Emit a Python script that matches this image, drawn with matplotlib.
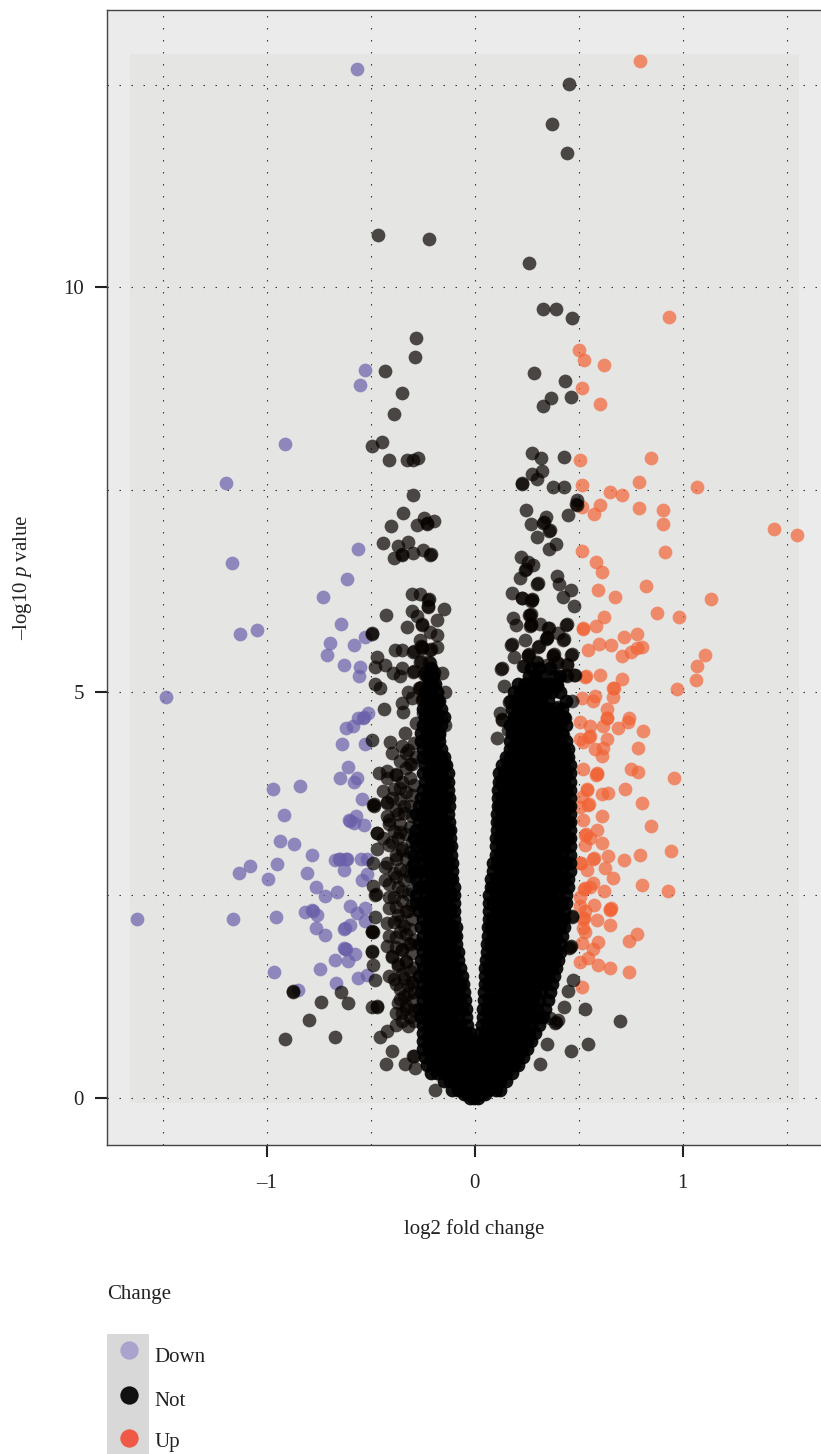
import numpy as np
import matplotlib
matplotlib.use("Agg")
import matplotlib.pyplot as plt
from matplotlib.patches import Rectangle
from matplotlib.lines import Line2D

plt.rcParams['font.family'] = ['Liberation Serif', 'DejaVu Serif']
plt.rcParams['mathtext.fontset'] = 'custom'
plt.rcParams['mathtext.rm'] = 'Liberation Serif'
plt.rcParams['mathtext.it'] = 'Liberation Serif:italic'

# -------------------------------
# data
# -------------------------------
down_x = [-0.566, -0.527, -0.551, -0.912, -1.196, -0.563, -1.168, -0.615, -0.731, -0.641, -1.048, -1.127,
          -0.527, -0.694, -0.580, -0.710, -0.630, -0.553, -0.558, -1.486, -0.514, -0.560, -0.532, -0.535,
          -0.587, -0.620, -0.636, -0.527, -0.608, -0.648, -0.567, -0.579, -0.838, -0.968, -0.540, -0.918,
          -0.571, -0.600, -0.604, -0.580, -0.532, -0.936, -0.870, -0.784, -0.672, -0.648, -0.652, -0.615,
          -0.619, -0.547, -0.519, -1.079, -1.133, -0.952, -0.806, -0.628, -0.519, -0.542, -0.995, -0.764,
          -0.664, -0.718, -0.598, -0.527, -0.816, -0.779, -0.782, -0.760, -0.567, -0.527, -1.625, -1.163,
          -0.957, -0.600, -0.624, -0.628, -0.761, -0.718, -0.624, -0.628, -0.620, -0.575, -0.673, -0.608,
          -0.742, -0.965, -0.563, -0.519, -0.665, -0.848]
down_y = [12.69, 8.98, 8.79, 8.06, 7.58, 6.77, 6.60, 6.40, 6.18, 5.84, 5.77, 5.72,
          5.69, 5.61, 5.58, 5.46, 5.34, 5.31, 5.20, 4.94, 4.75, 4.69, 4.70, 4.68,
          4.59, 4.56, 4.36, 4.36, 4.08, 3.94, 3.95, 3.90, 3.84, 3.81, 3.69, 3.49,
          3.47, 3.41, 3.42, 3.39, 3.36, 3.17, 3.13, 2.99, 2.93, 2.95, 2.94, 2.95,
          2.94, 2.94, 2.95, 2.86, 2.77, 2.88, 2.77, 2.81, 2.76, 2.69, 2.70, 2.60,
          2.54, 2.49, 2.37, 2.34, 2.29, 2.30, 2.31, 2.25, 2.28, 2.18, 2.20, 2.21,
          2.23, 2.13, 2.09, 2.08, 2.09, 2.01, 1.84, 1.85, 1.83, 1.77, 1.70, 1.69,
          1.59, 1.55, 1.48, 1.51, 1.42, 1.33]

up_x = [0.796, 0.936, 0.503, 0.525, 0.623, 0.516, 0.601, 0.505, 0.846, 0.791, 1.069, 0.516, 0.650, 0.708,
        0.514, 0.602, 0.574, 0.791, 0.907, 0.904, 1.440, 1.548, 0.514, 0.916, 0.582, 0.613, 0.822, 0.594,
        0.675, 1.135, 0.875, 0.981, 0.622, 0.582, 0.519, 0.521, 0.779, 0.719, 0.599, 0.654, 0.806, 0.779,
        0.543, 0.750, 0.710, 1.107, 1.070, 1.064, 0.973, 0.602, 0.530, 0.533, 0.707, 0.666, 0.669, 0.578,
        0.514, 0.570, 0.665, 0.636, 0.635, 0.638, 0.742, 0.738, 0.506, 0.554, 0.618, 0.690, 0.811, 0.505,
        0.551, 0.555, 0.635, 0.522, 0.618, 0.578, 0.787, 0.612, 0.751, 0.787, 0.960, 0.522, 0.586, 0.590,
        0.583, 0.723, 0.538, 0.541, 0.639, 0.611, 0.806, 0.514, 0.546, 0.549, 0.506, 0.613, 0.522, 0.848,
        0.586, 0.530, 0.533, 0.554, 0.612, 0.942, 0.795, 0.719, 0.641, 0.570, 0.573, 0.506, 0.509, 0.530,
        0.626, 0.538, 0.663, 0.803, 0.931, 0.570, 0.525, 0.528, 0.554, 0.620, 0.505, 0.575, 0.652, 0.655,
        0.649, 0.506, 0.530, 0.522, 0.525, 0.589, 0.650, 0.522, 0.530, 0.780, 0.743, 0.591, 0.514, 0.569,
        0.546, 0.505, 0.591, 0.652, 0.743, 0.516]
up_y = [12.79, 9.63, 9.22, 9.10, 9.04, 8.75, 8.56, 7.87, 7.89, 7.60, 7.54, 7.56, 7.47, 7.44,
        7.29, 7.31, 7.20, 7.27, 7.25, 7.08, 7.02, 6.94, 6.74, 6.73, 6.61, 6.49, 6.31, 6.26,
        6.18, 6.15, 5.98, 5.93, 5.93, 5.82, 5.78, 5.79, 5.72, 5.69, 5.60, 5.59, 5.56, 5.55,
        5.52, 5.50, 5.45, 5.46, 5.33, 5.15, 5.04, 5.22, 5.19, 5.20, 5.17, 5.05, 5.06, 4.96,
        4.93, 4.89, 4.94, 4.80, 4.68, 4.69, 4.69, 4.64, 4.63, 4.58, 4.58, 4.56, 4.53, 4.43,
        4.45, 4.46, 4.42, 4.39, 4.31, 4.30, 4.32, 4.22, 4.06, 4.02, 3.95, 4.05, 3.99, 4.00,
        3.98, 3.81, 3.80, 3.81, 3.76, 3.75, 3.64, 3.71, 3.61, 3.62, 3.59, 3.47, 3.43, 3.35,
        3.30, 3.24, 3.25, 3.20, 3.14, 3.04, 2.99, 2.93, 2.98, 2.95, 2.96, 2.89, 2.90, 3.12,
        2.83, 2.81, 2.71, 2.62, 2.55, 2.65, 2.58, 2.59, 2.60, 2.55, 2.48, 2.38, 2.33, 2.34,
        2.32, 2.36, 2.30, 2.21, 2.22, 2.19, 2.13, 2.09, 2.04, 2.02, 1.93, 1.92, 1.91, 1.84,
        1.72, 1.67, 1.64, 1.60, 1.55, 1.37]

# not significant, the loose points around the edge of the cloud
not_x = [-0.466, -0.218, -0.281, -0.287, -0.430, -0.351, -0.387, -0.444, -0.495, -0.411, -0.327, -0.295, -0.271, -0.298,
         0.453, 0.372, 0.445, 0.262, 0.327, 0.392, 0.469, 0.284, 0.436, 0.463, 0.367, 0.327, 0.275, 0.320, 0.431,
         0.322, 0.275, 0.298, 0.226, 0.229, 0.375, 0.431, 0.49,
         0.529, 0.699, 0.545, 0.461, 0.346, 0.314, 0.450, 0.431, 0.474, 0.386, 0.389, 0.362, 0.40, 0.466, 0.469,
         0.458, 0.461, 0.455,
         -0.875, -0.872, -0.644, -0.739, -0.608, -0.495, -0.471, -0.468, -0.795, -0.911, -0.673, -0.455, -0.423,
         -0.399, -0.426, -0.335, -0.295, -0.292, -0.287, -0.191, -0.479, -0.488, -0.495, -0.492, -0.495, -0.492,
         -0.489, -0.479, -0.479, -0.476, -0.49, -0.488, -0.471, -0.471, -0.468, -0.423, -0.488, -0.485, -0.482, -0.423,
         -0.38, -0.35, -0.32, -0.38, -0.33, -0.36, -0.32, -0.38, -0.34, -0.30, -0.41, -0.37, -0.33, -0.40, -0.35,
         -0.31, -0.42, -0.38, -0.33, -0.42, -0.36, -0.32, -0.38, -0.41, -0.35, -0.43, -0.38, -0.33, -0.43, -0.38,
         -0.35, -0.40, -0.44, -0.36, -0.41, -0.37, -0.34, -0.40, -0.44, -0.36, -0.42, -0.38, -0.46, -0.31, -0.33,
         -0.495, -0.407, -0.435, -0.351, -0.346, -0.335, -0.479, -0.455, -0.319, -0.30, -0.471, -0.479, -0.431,
         -0.391, -0.359, -0.351, -0.495, -0.492, -0.428, -0.383, -0.351, -0.327, -0.303, -0.303, -0.263, -0.223,
         -0.220, -0.223, -0.226, -0.146, -0.183, -0.279, -0.255, -0.252, -0.215, -0.183, -0.263, -0.295, -0.292,
         -0.255, -0.258, -0.252, -0.215, -0.212, -0.183, -0.263, -0.260, -0.215, -0.218, -0.295, -0.292, -0.239,
         -0.236, -0.242, -0.159, -0.199, -0.196, -0.263, -0.260, -0.266, -0.199, -0.202, -0.143, -0.183, -0.180,
         -0.25, -0.247, -0.253, -0.143, -0.22, -0.19, -0.16, -0.28, -0.25, -0.20, -0.17,
         -0.343, -0.402, -0.439, -0.370, -0.319, -0.387, -0.351, -0.348, -0.295, -0.247, -0.215, -0.212, -0.279,
         -0.244, -0.231, -0.228, -0.194,
         0.245, 0.341, 0.269, 0.330, 0.333, 0.450, 0.490, 0.487, 0.359, 0.362, 0.298, 0.391, 0.359, 0.223, 0.258,
         0.282, 0.242, 0.245, 0.218, 0.397, 0.405, 0.301, 0.304, 0.181, 0.463, 0.426, 0.226, 0.229, 0.274, 0.277,
         0.271, 0.477, 0.266, 0.269, 0.263, 0.183, 0.199, 0.269, 0.272, 0.266, 0.314, 0.439, 0.442, 0.354, 0.357,
         0.402, 0.346, 0.349, 0.343, 0.242, 0.426, 0.429, 0.175, 0.178, 0.306, 0.309, 0.189, 0.258, 0.261, 0.255,
         0.378, 0.381, 0.375, 0.463, 0.466, 0.298, 0.301, 0.234, 0.237, 0.394, 0.397, 0.442, 0.445, 0.126, 0.129,
         0.346, 0.482, 0.479, 0.442, 0.439, 0.142, 0.298, 0.295, 0.301, 0.394, 0.391, 0.397, 0.234, 0.231, 0.346,
         0.343, 0.170, 0.173, 0.167, 0.242, 0.239, 0.245, 0.314, 0.317, 0.311, 0.466, 0.394, 0.391, 0.122, 0.434,
         0.431, 0.130, 0.133, 0.194, 0.197, 0.191, 0.282, 0.285, 0.279, 0.362, 0.365, 0.359, 0.162, 0.232, 0.235,
         0.229, 0.314, 0.317, 0.311, 0.386, 0.389, 0.426, 0.109, 0.21, 0.26, 0.35, 0.40, 0.23, 0.29, 0.33, 0.37,
         -0.29, -0.31, -0.35, -0.29, -0.33, -0.37, -0.30, -0.34, -0.29, -0.36, -0.32, -0.30, -0.39, -0.35, -0.31,
         -0.29, -0.37, -0.33, -0.40, -0.30, -0.35, -0.38, -0.32, -0.29, -0.41, -0.36, -0.31, -0.34, -0.39, -0.30,
         -0.37, -0.33, -0.41, -0.30, -0.35, -0.39, -0.32, -0.30, -0.37, -0.41, -0.34, -0.31, -0.39, -0.36, -0.30,
         -0.42, -0.33, -0.38, -0.31, -0.35, -0.41, -0.30, -0.37, -0.33, -0.39, -0.31, -0.36, -0.41, -0.30, -0.34,
         -0.38, -0.31, -0.42, -0.36, -0.30, -0.33, -0.39, -0.29, -0.35, -0.31, -0.38, -0.42, -0.33, -0.30, -0.36,
         -0.28, -0.40, -0.32, -0.35, -0.29]
not_y = [10.64, 10.60, 9.37, 9.14, 8.96, 8.69, 8.44, 8.09, 8.04, 7.87, 7.87, 7.87, 7.89, 7.44,
         12.51, 12.01, 11.65, 10.30, 9.73, 9.73, 9.62, 8.94, 8.84, 8.65, 8.63, 8.53, 7.96, 7.89, 7.90,
         7.73, 7.70, 7.63, 7.57, 7.58, 7.53, 7.53, 7.37,
         1.09, 0.95, 0.66, 0.58, 0.66, 0.42, 1.32, 1.12, 1.45, 0.92, 0.93, 0.98, 0.96, 2.23, 2.24,
         1.86, 1.87, 1.85,
         1.30, 1.31, 1.30, 1.18, 1.17, 1.12, 1.12, 1.13, 0.96, 0.72, 0.75, 0.75, 0.82,
         0.58, 0.42, 0.42, 0.51, 0.52, 0.36, 0.10, 1.45, 1.64, 1.80, 1.81, 2.05, 2.06,
         2.04, 2.23, 2.50, 2.51, 2.61, 2.89, 3.07, 3.26, 3.27, 3.47, 3.61, 3.62, 3.60, 3.65,
         0.90, 0.95, 0.88, 1.05, 1.10, 1.22, 1.28, 1.40, 1.48, 1.42, 1.50, 1.62, 1.68, 1.75, 1.83,
         1.90, 1.87, 1.98, 2.02, 2.15, 2.18, 2.30, 2.35, 2.48, 2.55, 2.68, 2.72, 2.80, 2.85, 2.95,
         3.05, 3.15, 3.20, 3.28, 3.38, 3.50, 3.60, 3.70, 3.78, 3.82, 3.95, 3.98, 4.00, 4.12, 4.25,
         4.41, 4.39, 4.80, 4.87, 4.76, 4.50, 5.11, 5.06, 5.01, 4.93, 5.44, 5.31, 5.34,
         5.24, 5.20, 5.30, 5.72, 5.73, 5.96, 5.52, 5.52, 5.81, 6.00, 6.22, 6.22, 6.14,
         6.15, 6.06, 6.07, 6.03, 5.89, 5.94, 5.83, 5.84, 5.75, 5.71, 5.65, 5.50, 5.51,
         5.56, 5.57, 5.55, 5.52, 5.53, 5.56, 5.38, 5.39, 5.36, 5.37, 5.25, 5.26, 5.24,
         5.25, 5.23, 5.24, 5.24, 5.25, 5.06, 5.07, 5.05, 5.08, 5.09, 5.01, 4.90, 4.91,
         4.92, 4.93, 4.91, 4.60, 4.72, 4.78, 4.70, 4.62, 4.75, 4.84, 4.48,
         7.21, 7.05, 6.84, 6.81, 6.85, 6.66, 6.70, 6.71, 6.72, 6.76, 6.70, 6.71, 7.07,
         7.15, 7.08, 7.09, 7.11,
         7.25, 7.17, 7.08, 7.09, 7.10, 7.19, 7.31, 7.32, 6.99, 7.00, 6.92, 6.83, 6.77, 6.67, 6.61,
         6.57, 6.51, 6.52, 6.41, 6.44, 6.34, 6.34, 6.35, 6.23, 6.26, 6.18, 6.16, 6.17, 6.14, 6.15,
         6.13, 6.07, 5.96, 5.97, 5.95, 5.92, 5.83, 5.83, 5.84, 5.82, 5.85, 5.83, 5.84, 5.79, 5.80,
         5.73, 5.67, 5.68, 5.66, 5.65, 5.65, 5.66, 5.59, 5.60, 5.56, 5.57, 5.44, 5.46, 5.47, 5.45,
         5.46, 5.47, 5.45, 5.46, 5.47, 5.36, 5.37, 5.32, 5.33, 5.36, 5.37, 5.34, 5.35, 5.29, 5.30,
         5.34, 5.21, 5.22, 5.20, 5.21, 5.08, 5.11, 5.12, 5.10, 5.09, 5.10, 5.08, 5.03, 5.04, 5.01,
         5.02, 4.89, 4.90, 4.88, 4.87, 4.88, 4.86, 4.91, 4.92, 4.90, 4.90, 4.80, 4.81, 4.74, 4.68,
         4.69, 4.66, 4.67, 4.68, 4.69, 4.67, 4.70, 4.71, 4.69, 4.66, 4.67, 4.65, 4.54, 4.54, 4.55,
         4.53, 4.54, 4.55, 4.53, 4.54, 4.55, 4.48, 4.44, 4.80, 4.78, 4.76, 4.82, 4.60, 4.62, 4.58, 4.60,
         0.95, 1.00, 1.04, 1.08, 1.13, 1.17, 1.21, 1.26, 1.30, 1.34, 1.39, 1.43, 1.47, 1.52, 1.56,
         1.60, 1.65, 1.69, 1.73, 1.78, 1.82, 1.86, 1.91, 1.95, 1.99, 2.04, 2.08, 2.12, 2.17, 2.21,
         2.25, 2.30, 2.34, 2.38, 2.43, 2.47, 2.51, 2.56, 2.60, 2.64, 2.69, 2.73, 2.77, 2.82, 2.86,
         2.90, 2.95, 2.99, 3.03, 3.08, 3.12, 3.16, 3.21, 3.25, 3.29, 3.34, 3.38, 3.42, 3.47, 3.51,
         3.55, 3.60, 3.64, 3.68, 3.73, 3.77, 3.81, 3.86, 3.90, 3.94, 3.99, 4.03, 4.07, 4.12, 4.16,
         4.20, 4.25, 4.29, 4.34, 4.38]

# the solid part of the cloud, one row of x values per p value level
core_y = [0.0, 0.05, 0.1, 0.2, 0.3, 0.4, 0.5, 0.6, 0.7, 0.8, 0.9,
          1.0, 1.1, 1.2, 1.3, 1.4, 1.5, 1.6, 1.7, 1.8, 1.9,
          2.0, 2.1, 2.2, 2.3, 2.4, 2.5, 2.6, 2.7, 2.8, 2.9,
          3.0, 3.1, 3.2, 3.3, 3.4, 3.5, 3.6, 3.7, 3.8, 3.9,
          4.0, 4.1, 4.2, 4.3, 4.4, 4.5, 4.6, 4.7, 4.8, 4.9, 5.0, 5.1, 5.2, 5.3]
core_x = [
    [-0.025, -0.005, 0.015],
    [-0.05, -0.03, -0.01, 0.01, 0.03, 0.05],
    [-0.11, -0.08, -0.05, -0.02, 0.01, 0.04, 0.07, 0.10, 0.12],
    [-0.15, -0.12, -0.09, -0.06, -0.03, 0.0, 0.03, 0.06, 0.09, 0.12, 0.15],
    [-0.21, -0.18, -0.15, -0.12, -0.09, -0.06, -0.03, 0.0, 0.03, 0.06, 0.09, 0.12, 0.15, 0.18],
    [-0.23, -0.20, -0.17, -0.14, -0.11, -0.08, -0.05, -0.02, 0.01, 0.04, 0.07, 0.10, 0.13, 0.16, 0.19, 0.21],
    [-0.24, -0.21, -0.18, -0.15, -0.12, -0.09, -0.06, -0.03, 0.0, 0.03, 0.06, 0.09, 0.12, 0.15, 0.18, 0.21, 0.23],
    [-0.25, -0.22, -0.19, -0.16, -0.13, -0.10, -0.07, -0.04, -0.01, 0.02, 0.05, 0.08, 0.11, 0.14, 0.17, 0.20, 0.23, 0.25],
    [-0.25, -0.22, -0.19, -0.16, -0.13, -0.10, -0.07, -0.04, -0.02, 0.02, 0.04, 0.07, 0.10, 0.13, 0.16, 0.19, 0.22, 0.25, 0.27],
    [-0.25, -0.22, -0.19, -0.16, -0.13, -0.10, -0.07, -0.04, -0.025, 0.025, 0.05, 0.08, 0.11, 0.14, 0.17, 0.20, 0.23, 0.26, 0.29],
    [-0.25, -0.22, -0.19, -0.16, -0.13, -0.10, -0.07, -0.035, 0.035, 0.06, 0.09, 0.12, 0.15, 0.18, 0.21, 0.24, 0.27, 0.31],
    [-0.26, -0.23, -0.20, -0.17, -0.14, -0.11, -0.08, -0.04, 0.04, 0.07, 0.10, 0.13, 0.16, 0.19, 0.22, 0.25, 0.28, 0.31, 0.33],
    [-0.27, -0.24, -0.21, -0.18, -0.15, -0.12, -0.09, -0.06, -0.04, 0.04, 0.06, 0.09, 0.12, 0.15, 0.18, 0.21, 0.24, 0.27, 0.30, 0.34],
    [-0.25, -0.22, -0.19, -0.16, -0.13, -0.10, -0.07, -0.045, 0.045, 0.07, 0.10, 0.13, 0.16, 0.19, 0.22, 0.25, 0.28, 0.31, 0.35],
    [-0.26, -0.23, -0.20, -0.17, -0.14, -0.11, -0.08, -0.05, 0.045, 0.08, 0.11, 0.14, 0.17, 0.20, 0.23, 0.26, 0.29, 0.32, 0.36],
    [-0.25, -0.22, -0.19, -0.16, -0.13, -0.10, -0.07, -0.055, 0.05, 0.07, 0.10, 0.13, 0.16, 0.19, 0.22, 0.25, 0.28, 0.31, 0.34, 0.37],
    [-0.27, -0.24, -0.21, -0.18, -0.15, -0.12, -0.09, -0.06, 0.05, 0.08, 0.11, 0.14, 0.17, 0.20, 0.23, 0.26, 0.29, 0.32, 0.35, 0.38],
    [-0.25, -0.22, -0.19, -0.16, -0.13, -0.10, -0.07, 0.05, 0.07, 0.10, 0.13, 0.16, 0.19, 0.22, 0.25, 0.28, 0.31, 0.34, 0.37, 0.39],
    [-0.26, -0.23, -0.20, -0.17, -0.14, -0.11, -0.08, 0.055, 0.08, 0.11, 0.14, 0.17, 0.20, 0.23, 0.26, 0.29, 0.32, 0.35, 0.38, 0.40],
    [-0.25, -0.22, -0.19, -0.16, -0.13, -0.10, -0.08, 0.06, 0.09, 0.12, 0.15, 0.18, 0.21, 0.24, 0.27, 0.30, 0.33, 0.36, 0.39, 0.41],
    [-0.27, -0.24, -0.21, -0.18, -0.15, -0.12, -0.09, 0.06, 0.08, 0.11, 0.14, 0.17, 0.20, 0.23, 0.26, 0.29, 0.32, 0.35, 0.38, 0.41],
    [-0.25, -0.22, -0.19, -0.16, -0.13, -0.10, -0.09, 0.065, 0.09, 0.12, 0.15, 0.18, 0.21, 0.24, 0.27, 0.30, 0.33, 0.36, 0.39, 0.42],
    [-0.26, -0.23, -0.20, -0.17, -0.14, -0.11, -0.09, 0.065, 0.08, 0.11, 0.14, 0.17, 0.20, 0.23, 0.26, 0.29, 0.32, 0.35, 0.38, 0.41, 0.43],
    [-0.25, -0.22, -0.19, -0.16, -0.13, -0.10, 0.07, 0.09, 0.12, 0.15, 0.18, 0.21, 0.24, 0.27, 0.30, 0.33, 0.36, 0.39, 0.42, 0.43],
    [-0.27, -0.24, -0.21, -0.18, -0.15, -0.12, -0.10, 0.07, 0.10, 0.13, 0.16, 0.19, 0.22, 0.25, 0.28, 0.31, 0.34, 0.37, 0.40, 0.43],
    [-0.28, -0.25, -0.22, -0.19, -0.16, -0.13, -0.10, 0.07, 0.09, 0.12, 0.15, 0.18, 0.21, 0.24, 0.27, 0.30, 0.33, 0.36, 0.39, 0.42, 0.44],
    [-0.28, -0.24, -0.21, -0.18, -0.15, -0.12, -0.10, 0.07, 0.10, 0.13, 0.16, 0.19, 0.22, 0.25, 0.28, 0.31, 0.34, 0.37, 0.40, 0.44],
    [-0.27, -0.25, -0.22, -0.19, -0.16, -0.13, -0.10, 0.08, 0.09, 0.12, 0.15, 0.18, 0.21, 0.24, 0.27, 0.30, 0.33, 0.36, 0.39, 0.42, 0.45],
    [-0.28, -0.24, -0.21, -0.18, -0.15, -0.12, -0.11, 0.08, 0.10, 0.13, 0.16, 0.19, 0.22, 0.25, 0.28, 0.31, 0.34, 0.37, 0.40, 0.43, 0.45],
    [-0.29, -0.26, -0.23, -0.20, -0.17, -0.14, -0.11, 0.09, 0.12, 0.15, 0.18, 0.21, 0.24, 0.27, 0.30, 0.33, 0.36, 0.39, 0.42, 0.46],
    [-0.29, -0.25, -0.22, -0.19, -0.16, -0.13, -0.11, 0.09, 0.11, 0.14, 0.17, 0.20, 0.23, 0.26, 0.29, 0.32, 0.35, 0.38, 0.41, 0.44, 0.46],
    [-0.29, -0.26, -0.23, -0.20, -0.17, -0.14, -0.115, 0.10, 0.12, 0.15, 0.18, 0.21, 0.24, 0.27, 0.30, 0.33, 0.36, 0.39, 0.42, 0.46],
    [-0.28, -0.25, -0.22, -0.19, -0.16, -0.13, -0.115, 0.10, 0.13, 0.16, 0.19, 0.22, 0.25, 0.28, 0.31, 0.34, 0.37, 0.40, 0.43, 0.46],
    [-0.29, -0.26, -0.23, -0.20, -0.17, -0.14, -0.12, 0.10, 0.12, 0.15, 0.18, 0.21, 0.24, 0.27, 0.30, 0.33, 0.36, 0.39, 0.42, 0.45, 0.46],
    [-0.28, -0.25, -0.22, -0.19, -0.16, -0.13, -0.12, 0.105, 0.13, 0.16, 0.19, 0.22, 0.25, 0.28, 0.31, 0.34, 0.37, 0.40, 0.43, 0.46],
    [-0.27, -0.24, -0.21, -0.18, -0.15, -0.125, 0.105, 0.12, 0.15, 0.18, 0.21, 0.24, 0.27, 0.30, 0.33, 0.36, 0.39, 0.42, 0.45, 0.46],
    [-0.28, -0.25, -0.22, -0.19, -0.16, -0.13, 0.105, 0.13, 0.16, 0.19, 0.22, 0.25, 0.28, 0.31, 0.34, 0.37, 0.40, 0.43, 0.46],
    [-0.27, -0.24, -0.21, -0.18, -0.15, -0.125, 0.11, 0.12, 0.15, 0.18, 0.21, 0.24, 0.27, 0.30, 0.33, 0.36, 0.39, 0.42, 0.45, 0.46],
    [-0.26, -0.23, -0.20, -0.17, -0.14, -0.125, 0.11, 0.13, 0.16, 0.19, 0.22, 0.25, 0.28, 0.31, 0.34, 0.37, 0.40, 0.43, 0.46],
    [-0.25, -0.22, -0.19, -0.16, -0.13, 0.11, 0.14, 0.17, 0.20, 0.23, 0.26, 0.29, 0.32, 0.35, 0.38, 0.41, 0.44, 0.46],
    [-0.24, -0.21, -0.18, -0.15, -0.13, 0.115, 0.13, 0.16, 0.19, 0.22, 0.25, 0.28, 0.31, 0.34, 0.37, 0.40, 0.43, 0.46],
    [-0.25, -0.22, -0.19, -0.16, -0.13, 0.115, 0.14, 0.17, 0.20, 0.23, 0.26, 0.29, 0.32, 0.35, 0.38, 0.41, 0.44, 0.46],
    [-0.24, -0.21, -0.18, -0.15, -0.14, 0.13, 0.16, 0.19, 0.22, 0.25, 0.28, 0.31, 0.34, 0.37, 0.40, 0.43, 0.46],
    [-0.25, -0.22, -0.19, -0.16, -0.15, 0.15, 0.17, 0.20, 0.23, 0.26, 0.29, 0.32, 0.35, 0.38, 0.41, 0.44, 0.45],
    [-0.25, -0.22, -0.19, -0.16, 0.17, 0.19, 0.22, 0.25, 0.28, 0.31, 0.34, 0.37, 0.40, 0.43, 0.45],
    [-0.26, -0.23, -0.20, -0.17, 0.17, 0.20, 0.23, 0.26, 0.29, 0.32, 0.35, 0.38, 0.41, 0.44],
    [-0.26, -0.23, -0.20, -0.17, 0.18, 0.21, 0.24, 0.27, 0.30, 0.33, 0.36, 0.39, 0.42],
    [-0.25, -0.22, -0.19, -0.16, 0.17, 0.20, 0.23, 0.26, 0.29, 0.32, 0.35, 0.38, 0.41, 0.44],
    [-0.24, -0.21, -0.18, -0.15, 0.19, 0.22, 0.25, 0.28, 0.31, 0.34, 0.37, 0.40, 0.43],
    [-0.25, -0.22, -0.19, -0.16, 0.18, 0.21, 0.24, 0.27, 0.30, 0.33, 0.36, 0.42],
    [-0.23, -0.20, -0.17, 0.20, 0.23, 0.26, 0.29, 0.32, 0.35, 0.44],
    [-0.24, -0.21, -0.18, 0.19, 0.22, 0.25, 0.28, 0.31, 0.37, 0.41],
    [-0.22, -0.19, 0.21, 0.24, 0.27, 0.30, 0.33, 0.36, 0.39],
    [-0.23, -0.20, 0.26, 0.29, 0.32, 0.38, 0.41],
    [-0.21, 0.27, 0.31, 0.36],
]

x_ticks = [-1, 0, 1]
x_ticklabels = ['\u20131', '0', '1']
x_grid_minor = [-1.5, -0.5, 0.5, 1.5]
y_ticks = [0, 5, 10]
y_grid_minor = [2.5, 7.5, 12.5]
legend_labels = ['Down', 'Not', 'Up']
legend_colors = ['#a9a3cd', '#111111', '#ee5a45']

# -------------------------------
# figure
# -------------------------------
W, H = 821, 1454
fig = plt.figure(figsize=(W / 100, H / 100), dpi=100)
ax = fig.add_axes([107 / W, (H - 1145) / H, (W - 107) / W, (1145 - 10) / H])
ax.set_facecolor('#ebebeb')
ax.set_xlim(-1.768, 1.665)
ax.set_ylim(-0.584, 13.42)

# the slightly darker data area
ax.add_patch(Rectangle((-1.657, -0.061), 3.215, 12.941, fc='#e5e5e3', ec='none', zorder=0.5))

ax.set_xticks(x_ticks)
ax.set_xticklabels(x_ticklabels)
ax.set_xticks(x_grid_minor, minor=True)
ax.set_yticks(y_ticks)
ax.set_yticks(y_grid_minor, minor=True)
ax.grid(True, which='both', color='#333333', lw=0.8, ls=(0, (1.3, 9.5)), zorder=1)
ax.set_axisbelow(True)
ax.tick_params(which='minor', length=0)
ax.tick_params(which='major', length=8.6, width=1.5, color='#222222', labelsize=15,
               labelcolor='#222222')
ax.tick_params(axis='x', which='major', pad=12)
ax.tick_params(axis='y', which='major', pad=8)

for side in ['left', 'top', 'bottom']:
    ax.spines[side].set_color('#444444')
    ax.spines[side].set_linewidth(1.0)
ax.spines['right'].set_visible(False)

core_all_x = np.concatenate(core_x)
core_all_y = np.repeat(core_y, [len(r) for r in core_x])

PT = dict(s=98, linewidths=0, alpha=0.7, zorder=3)
ax.scatter(down_x, down_y, color='#6a60aa', **PT)
ax.scatter(up_x, up_y, color='#f26335', **PT)
ax.scatter(not_x, not_y, color='#070300', **PT)
ax.scatter(core_all_x, core_all_y, color='#000000', s=98, linewidths=0, alpha=0.92, zorder=3)

fig.text(474.5 / W, 1 - 1229 / H, 'log2 fold change', ha='center', va='center', fontsize=15, color='#222222')
fig.text(22 / W, 1 - 577 / H, '\u2013log10 $\\mathit{p}$ value', rotation=90, ha='center', va='center',
         fontsize=15, color='#222222')

# legend drawn by hand, the key strip runs off the bottom of the picture
fig.text(107 / W, 1 - 1294 / H, 'Change', ha='left', va='center', fontsize=15, color='#222222')
fig.add_artist(Rectangle((107 / W, 0), 42 / W, (H - 1334) / H, transform=fig.transFigure, fc='#d8d8d8', ec='none'))
key_y = [1350, 1395, 1438]
label_y = [1357, 1401, 1443]
for lab, col, ky, ly in zip(legend_labels, legend_colors, key_y, label_y):
    fig.add_artist(Line2D([129 / W], [1 - ky / H], marker='o', ms=13.2, mfc=col, mec='none', ls='none',
                          transform=fig.transFigure))
    fig.text(154 / W, 1 - ly / H, lab, ha='left', va='center', fontsize=15, color='#222222')

fig.savefig('out.png', dpi=100)
